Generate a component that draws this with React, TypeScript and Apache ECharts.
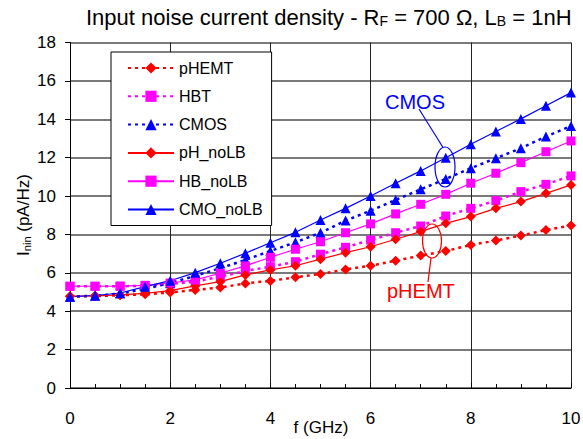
import React, { useEffect, useRef } from "react";
import * as echarts from "echarts";

const freqs = [0, 0.5, 1, 1.5, 2, 2.5, 3, 3.5, 4, 4.5, 5, 5.5, 6, 6.5, 7, 7.5, 8, 8.5, 9, 9.5, 10];
const pHEMT = [4.78, 4.79, 4.83, 4.88, 4.98, 5.11, 5.23, 5.45, 5.58, 5.77, 5.94, 6.18, 6.37, 6.63, 6.9, 7.14, 7.45, 7.68, 7.94, 8.23, 8.46];
const HBT = [5.3, 5.3, 5.3, 5.33, 5.42, 5.54, 5.8, 6.1, 6.32, 6.58, 6.97, 7.33, 7.71, 8.09, 8.44, 8.96, 9.36, 9.76, 10.23, 10.61, 11.05];
const CMOS = [4.76, 4.8, 4.92, 5.17, 5.47, 5.84, 6.24, 6.67, 7.14, 7.59, 8.09, 8.72, 9.24, 9.8, 10.35, 10.89, 11.45, 11.97, 12.49, 13.1, 13.65];
const pH_noLB = [4.78, 4.8, 4.85, 4.93, 5.07, 5.32, 5.54, 5.89, 6.15, 6.37, 6.71, 7.05, 7.36, 7.75, 8.15, 8.58, 8.93, 9.36, 9.71, 10.14, 10.58];
const HB_noLB = [5.3, 5.3, 5.31, 5.35, 5.47, 5.63, 5.98, 6.36, 6.81, 7.23, 7.62, 8.09, 8.55, 9.07, 9.57, 10.09, 10.67, 11.19, 11.74, 12.31, 12.87];
const CMO_noLB = [4.76, 4.82, 4.95, 5.28, 5.59, 6.01, 6.5, 7.02, 7.57, 8.11, 8.75, 9.36, 10.0, 10.67, 11.31, 12.0, 12.7, 13.36, 14.02, 14.7, 15.39];

const FONT = "'Liberation Sans', Arial, Helvetica, sans-serif";
const RED = "#ff0000";
const MAG = "#ff00ff";
const BLUE = "#0000ff";

const pairs = (ys: number[]) => freqs.map((f, i) => [f, ys[i]]);

export default function App() {
  const ref = useRef<HTMLDivElement>(null);
  useEffect(() => {
    if (!ref.current) return;
    const chart = echarts.init(ref.current, undefined, { renderer: "svg" });
    const dotted = (color: string) => ({ color, width: 2.5, type: [3, 4] as number[], cap: "butt" as const });
    const solid = (color: string) => ({ color, width: 1.2, type: "solid" as const });
    const mk = (name: string, ys: number[], color: string, symbol: string, size: number, line: any) => ({
      name,
      type: "line",
      data: pairs(ys),
      symbol,
      symbolSize: size,
      showAllSymbol: true,
      itemStyle: { color },
      lineStyle: line,
      emphasis: { disabled: true },
    });
    chart.setOption({
      animation: false,
      textStyle: { fontFamily: FONT },
      title: {
        text: "{a|Input noise current density - R}{s|F}{a| = 700 Ω, L}{s|B}{a| = 1nH}",
        left: 81,
        top: -3,
        textStyle: {
          fontWeight: "normal",
          rich: {
            a: { fontSize: 22, fontFamily: FONT, fontWeight: "normal", color: "#000", lineHeight: 26, verticalAlign: "bottom" },
            s: { fontSize: 14, fontFamily: FONT, fontWeight: "normal", color: "#000", lineHeight: 22, verticalAlign: "bottom" },
          },
        },
      },
      grid: { left: 70, right: 12, top: 42.5, bottom: 51, containLabel: false, outerBoundsMode: "none" },
      legend: {
        orient: "vertical",
        left: 111,
        top: 52,
        padding: [8, 9, 8, 16],
        itemWidth: 46,
        itemHeight: 14,
        itemGap: 12.3,
        backgroundColor: "#fff",
        borderColor: "#000",
        borderWidth: 1,
        borderRadius: 0,
        textStyle: { fontSize: 16, fontFamily: FONT, color: "#000", padding: [0, 0, 0, 0] },
        data: ["pHEMT", "HBT", "CMOS", "pH_noLB", "HB_noLB", "CMO_noLB"],
      },
      xAxis: {
        type: "value",
        min: 0,
        max: 10,
        interval: 2,
        axisLine: { show: true, onZero: false, lineStyle: { color: "#000", width: 1 } },
        axisTick: { show: true, inside: true, length: 5, lineStyle: { color: "#000" } },
        minorTick: { show: true, splitNumber: 4, length: 4, lineStyle: { color: "#000" } },
        axisLabel: { fontSize: 17, fontFamily: FONT, color: "#000", margin: 22 },
        splitLine: { show: true, lineStyle: { color: "#222", width: 1 } },
      },
      yAxis: {
        type: "value",
        min: 0,
        max: 18,
        interval: 2,
        axisLine: { show: true, onZero: false, lineStyle: { color: "#000", width: 1 } },
        axisTick: { show: true, inside: false, length: 5, lineStyle: { color: "#000" } },
        axisLabel: { fontSize: 17, fontFamily: FONT, color: "#000", margin: 14 },
        splitLine: { show: true, lineStyle: { color: "#7a7a7a", width: 1.8 } },
      },
      series: [
        mk("pHEMT", pHEMT, RED, "diamond", 10, dotted(RED)),
        mk("HBT", HBT, MAG, "rect", 9, dotted(MAG)),
        mk("CMOS", CMOS, BLUE, "triangle", 10, dotted(BLUE)),
        mk("pH_noLB", pH_noLB, RED, "diamond", 10, solid(RED)),
        mk("HB_noLB", HB_noLB, MAG, "rect", 9, solid(MAG)),
        mk("CMO_noLB", CMO_noLB, BLUE, "triangle", 10, solid(BLUE)),
      ],
      graphic: [
        {
          type: "text",
          x: 321,
          y: 427,
          style: {
            text: "f (GHz)",
            fontSize: 17,
            fontFamily: FONT,
            fill: "#000",
            textAlign: "center",
            textVerticalAlign: "middle",
          },
          z: 100,
        },
        {
          type: "text",
          x: 21,
          y: 215,
          rotation: Math.PI / 2,
          style: {
            text: "{a|I}{s|nin}{a| (pA/Hz)}",
            fill: "#000",
            textAlign: "center",
            textVerticalAlign: "middle",
            rich: {
              a: { fontSize: 17, fontFamily: FONT, fill: "#000", lineHeight: 22, verticalAlign: "bottom" },
              s: { fontSize: 11, fontFamily: FONT, fill: "#000", lineHeight: 18, verticalAlign: "bottom" },
            },
          },
          z: 100,
        },
        {
          type: "text",
          x: 385,
          y: 101.5,
          style: { text: "CMOS", fontSize: 20, fontFamily: FONT, fill: BLUE, textVerticalAlign: "middle" },
          z: 100,
        },
        {
          type: "line",
          shape: { x1: 419, y1: 109, x2: 443, y2: 147.5 },
          style: { stroke: BLUE, lineWidth: 1.2 },
          z: 100,
        },
        {
          type: "ellipse",
          shape: { cx: 445, cy: 167, rx: 10, ry: 20 },
          style: { stroke: BLUE, fill: "none", lineWidth: 1.2 },
          z: 100,
        },
        {
          type: "ellipse",
          shape: { cx: 432, cy: 241, rx: 9.5, ry: 17 },
          style: { stroke: RED, fill: "none", lineWidth: 1.2 },
          z: 100,
        },
        {
          type: "line",
          shape: { x1: 431, y1: 258, x2: 428, y2: 282 },
          style: { stroke: RED, lineWidth: 1.2 },
          z: 100,
        },
        {
          type: "text",
          x: 387,
          y: 291,
          style: { text: "pHEMT", fontSize: 20, fontFamily: FONT, fill: RED, textVerticalAlign: "middle" },
          z: 100,
        },
      ],
    });
    return () => chart.dispose();
  }, []);
  return <div ref={ref} style={{ width: 583, height: 439, position: "absolute", left: 0, top: 0 }} />;
}
